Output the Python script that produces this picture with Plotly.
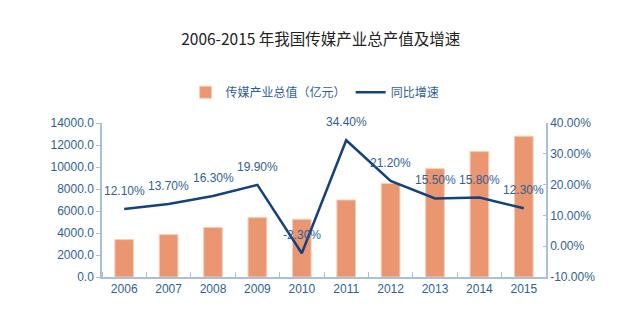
import plotly.graph_objects as go

years = ["2006", "2007", "2008", "2009", "2010", "2011", "2012", "2013", "2014", "2015"]
output_value = [3400, 3850, 4500, 5400, 5250, 7000, 8500, 9850, 11400, 12800]
growth = [12.1, 13.7, 16.3, 19.9, -2.3, 34.4, 21.2, 15.5, 15.8, 12.3]
growth_labels = ["12.10%", "13.70%", "16.30%", "19.90%", "-2.30%", "34.40%", "21.20%", "15.50%", "15.80%", "12.30%"]
left_ticks = [0, 2000, 4000, 6000, 8000, 10000, 12000, 14000]
right_ticks = [-10, 0, 10, 20, 30, 40]

TXT = "#2F5F97"
AX = "#A9C0D9"
FONT = "Liberation Sans, Arial, sans-serif"

idx = list(range(len(years)))

fig = go.Figure()
fig.add_trace(go.Bar(
    x=idx, y=output_value, name="传媒产业总值（亿元）",
    marker=dict(color="#EA9670", line=dict(color="#F6CDB6", width=1)),
    width=0.42,
))
fig.add_trace(go.Scatter(
    x=idx, y=growth, name="同比增速", yaxis="y2", mode="lines",
    line=dict(color="#14427E", width=2.5),
))
for i, g, lab in zip(idx, growth, growth_labels):
    fig.add_annotation(x=i, y=g, xref="x", yref="y2", text=lab, showarrow=False,
                       yshift=18, font=dict(family=FONT, size=12, color=TXT))

fig.update_layout(
    width=629, height=328,
    margin=dict(l=102, r=83, t=123, b=51),
    paper_bgcolor="white", plot_bgcolor="white",
    title=dict(text="2006-2015 年我国传媒产业总产值及增速", x=0.51, xanchor="center",
               y=1 - 40 / 328, yanchor="middle",
               font=dict(family="Noto Sans CJK SC", size=15.5, color="#222222")),
    legend=dict(orientation="h", x=0.48, xanchor="center", y=1.2, yanchor="middle",
                font=dict(family="Noto Sans CJK SC", size=12, color=TXT),
                bgcolor="rgba(0,0,0,0)"),
    showlegend=True,
    xaxis=dict(type="linear", range=[-0.5, len(years) - 0.5], tickvals=idx, ticktext=years,
               showline=True, linecolor=AX, linewidth=1.5, ticks="",
               minor=dict(tick0=0.5, dtick=1, ticks="inside", ticklen=5, tickcolor=AX),
               showgrid=False, zeroline=False,
               tickfont=dict(family=FONT, size=12, color=TXT)),
    yaxis=dict(range=[0, 14000], tickvals=left_ticks,
               ticktext=[f"{v:.1f}" for v in left_ticks],
               showline=True, linecolor=AX, linewidth=1.5, ticks="outside", ticklen=4,
               tickcolor=AX, showgrid=False, zeroline=False,
               tickfont=dict(family=FONT, size=12, color=TXT)),
    yaxis2=dict(range=[-10, 40], tickvals=right_ticks,
                ticktext=[f"{v:.2f}%" for v in right_ticks],
                overlaying="y", side="right",
                showline=True, linecolor=AX, linewidth=1.5, ticks="inside", ticklen=3,
                tickcolor=AX, showgrid=False, zeroline=False,
                tickfont=dict(family=FONT, size=12, color=TXT)),
)

fig.write_html("out.html")
